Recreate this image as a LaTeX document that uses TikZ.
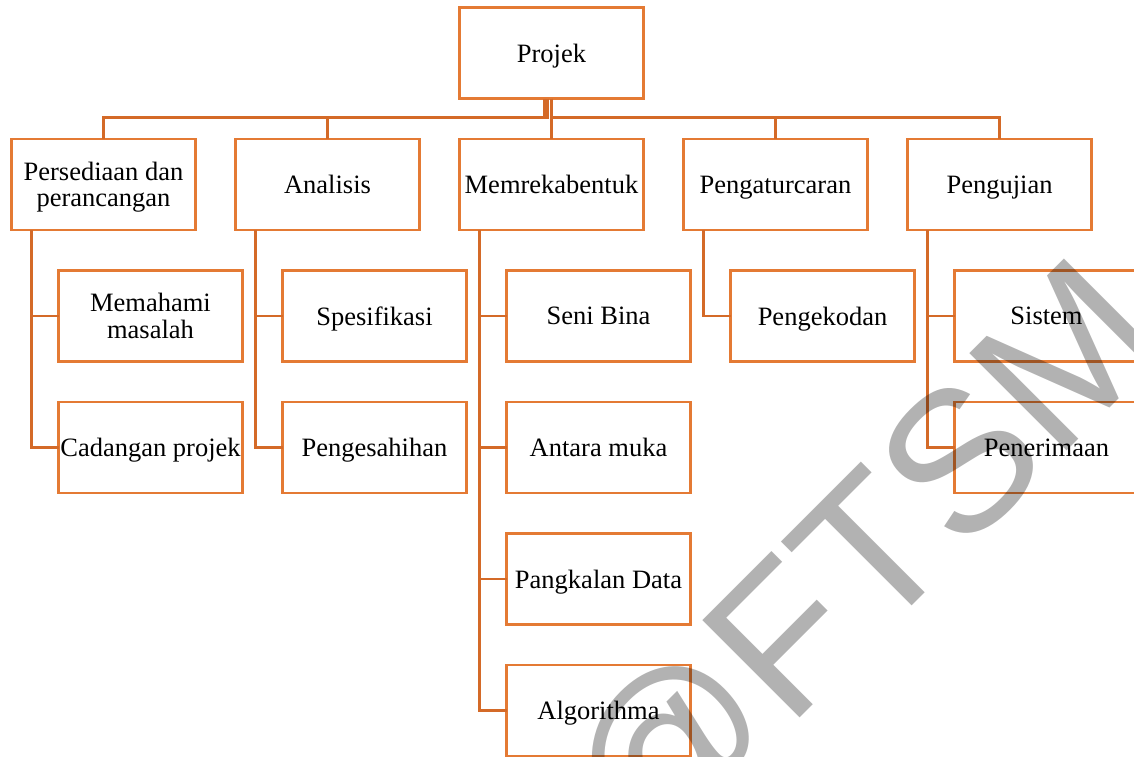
\documentclass[tikz,border=0pt]{standalone}
\usepackage{fontspec}
\setmainfont{Liberation Serif}
\newfontfamily\wmfont{Liberation Sans}
\usepackage{tikz}
\usetikzlibrary{positioning, calc}
\usepackage{xcolor}
\definecolor{boxline}{RGB}{228,122,52}
\definecolor{linkline}{RGB}{212,106,40}

\begin{document}
\begin{tikzpicture}[
    x=1pt, y=1pt,
    node distance=40.5pt and 40pt,
    box/.style={draw=boxline, line width=2.6pt, fill=white, minimum width=184pt, minimum height=91pt, inner sep=1pt, outer sep=0pt, align=center, text depth=0pt, font=\fontsize{26.5}{26.5}\selectfont},
    link/.style={draw=linkline, line width=2.2pt},
    wmark/.style={text=black, text opacity=0.3, inner sep=0pt, font=\wmfont\fontsize{200}{200}\selectfont}
]

% Page frame
\clip (0,0) rectangle (1134,-756);
\fill[white] (0,0) rectangle (1134,-756);

% Root
\node[box] (projek) at (551.5,-53) {Projek};

% Phases
\node[box, below=of projek] (memrek) {Memrekabentuk};
\node[box, left=of memrek] (analisis) {Analisis};
\node[box, left=of analisis] (persed) {Persediaan dan\\perancangan};
\node[box, right=of memrek] (pengatur) {Pengaturcaran};
\node[box, right=of pengatur] (pengujian) {Pengujian};

% Persediaan dan perancangan
\node[box, below=of persed, xshift=47pt] (memahami) {Memahami\\masalah};
\node[box, below=of memahami] (cadangan) {Cadangan projek};

% Analisis
\node[box, below=of analisis, xshift=47pt] (spesifikasi) {Spesifikasi};
\node[box, below=of spesifikasi] (pengesahan) {Pengesahihan};

% Memrekabentuk
\node[box, below=of memrek, xshift=47pt] (senibina) {Seni Bina};
\node[box, below=of senibina] (antaramuka) {Antara muka};
\node[box, below=of antaramuka] (pangkalan) {Pangkalan Data};
\node[box, below=of pangkalan] (algoritma) {Algorithma};

% Pengaturcaran
\node[box, below=of pengatur, xshift=47pt] (pengekodan) {Pengekodan};

% Pengujian
\node[box, below=of pengujian, xshift=47pt] (sistem) {Sistem};
\node[box, below=of sistem] (penerimaan) {Penerimaan};

% Connections from root
\draw[link] ([xshift=-7pt]projek.south) -- ++(0,-19) -| (persed.north);
\draw[link] ([xshift=-4pt]projek.south) -- ++(0,-19) -| (analisis.north);
\draw[link] (projek.south) -- (memrek.north);
\draw[link] (projek.south) -- ++(0,-19) -| (pengatur.north);
\draw[link] (projek.south) -- ++(0,-19) -| (pengujian.north);

% Connections to tasks
\draw[link] ([xshift=20pt]persed.south west) |- (memahami.west);
\draw[link] ([xshift=20pt]persed.south west) |- (cadangan.west);
\draw[link] ([xshift=20pt]analisis.south west) |- (spesifikasi.west);
\draw[link] ([xshift=20pt]analisis.south west) |- (pengesahan.west);
\draw[link] ([xshift=20pt]memrek.south west) |- (senibina.west);
\draw[link] ([xshift=20pt]memrek.south west) |- (antaramuka.west);
\draw[link] ([xshift=20pt]memrek.south west) |- (pangkalan.west);
\draw[link] ([xshift=20pt]memrek.south west) |- (algoritma.west);
\draw[link] ([xshift=20pt]pengatur.south west) |- (pengekodan.west);
\draw[link] ([xshift=20pt]pengujian.south west) |- (sistem.west);
\draw[link] ([xshift=20pt]pengujian.south west) |- (penerimaan.west);

% Watermark
\node[wmark, rotate=45, anchor=base west] (wm) at (645,-873) {@FTSM};

\end{tikzpicture}
\end{document}
